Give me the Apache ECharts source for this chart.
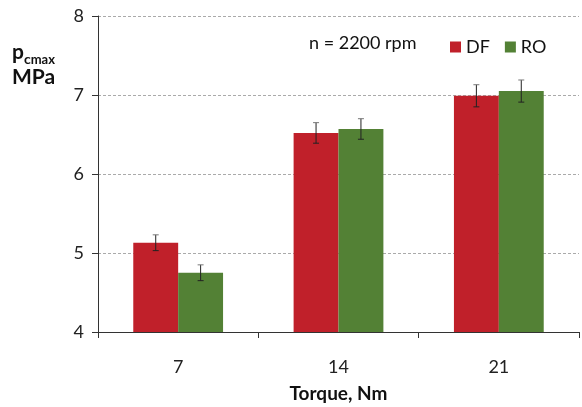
<!DOCTYPE html>
<html>
<head>
<meta charset="utf-8">
<script src="https://cdn.jsdelivr.net/npm/echarts@6/dist/echarts.min.js"></script>
<style>
  html, body { margin: 0; padding: 0; background: #fff; }
  #chart { width: 582px; height: 407px; }
</style>
</head>
<body>
<div id="chart"></div>
<script>
const torques = ['7', '14', '21']
const dfValues = [5.13, 6.52, 6.99]
const roValues = [4.75, 6.57, 7.05]
const dfErr = [0.1, 0.13, 0.14]
const roErr = [0.1, 0.13, 0.14]

const FONT = 'Lato'
const BAR_FRAC = 0.28

function errorSeries(name, values, errs, side) {
  return {
    type: 'custom',
    name: name + ' err',
    z: 10,
    silent: true,
    data: values.map((v, i) => [i, v - errs[i], v + errs[i]]),
    renderItem(params, api) {
      const band = api.size([1, 0])[0]
      const dx = side * band * BAR_FRAC / 2
      const lo = api.coord([api.value(0), api.value(1)])
      const hi = api.coord([api.value(0), api.value(2)])
      const x = lo[0] + dx
      const cap = 3
      const style = { stroke: '#222', lineWidth: 1 }
      return {
        type: 'group',
        children: [
          { type: 'line', shape: { x1: x, y1: hi[1], x2: x, y2: lo[1] }, style },
          { type: 'line', shape: { x1: x - cap, y1: hi[1], x2: x + cap, y2: hi[1] }, style: { stroke: '#777', lineWidth: 1 } },
          { type: 'line', shape: { x1: x - cap, y1: lo[1], x2: x + cap, y2: lo[1] }, style }
        ]
      }
    }
  }
}

const chart = echarts.init(document.getElementById('chart'))
chart.setOption({
  animation: false,
  textStyle: { fontFamily: FONT },
  grid: { left: 98, right: 3, top: 16, bottom: 75, containLabel: false, outerBoundsMode: 'none' },
  legend: {
    left: 445, top: 33,
    itemWidth: 11, itemHeight: 11, itemGap: 15,
    icon: 'rect',
    data: ['DF', 'RO'],
    textStyle: { fontSize: 18, color: '#111', fontFamily: FONT }
  },
  graphic: [
    { type: 'text', left: 309, top: 34, style: { text: 'n = 2200 rpm', fontSize: 18, fill: '#111', fontFamily: FONT } },
    {
      type: 'text', left: 12, top: 42,
      style: {
        text: '{p|p}{c|c}{m|max}',
        rich: {
          p: { fontSize: 21, fontWeight: 'bold', fill: '#111', fontFamily: FONT },
          c: { fontSize: 14, fontWeight: 'bold', fill: '#111', fontFamily: FONT, verticalAlign: 'bottom', padding: [8, 0, 0, 0] },
          m: { fontSize: 13, fontWeight: 'bold', fill: '#111', fontFamily: FONT, verticalAlign: 'bottom', padding: [14, 0, 0, 0] }
        }
      }
    },
    { type: 'text', left: 12, top: 67, style: { text: 'MPa', fontSize: 21, fontWeight: 'bold', fill: '#111', fontFamily: FONT } }
  ],
  xAxis: {
    type: 'category',
    data: torques,
    name: 'Torque, Nm',
    nameLocation: 'middle',
    nameGap: 52,
    nameTextStyle: { fontSize: 19, fontWeight: 'bold', color: '#111', fontFamily: FONT },
    axisLine: { lineStyle: { color: '#333', width: 1 } },
    axisTick: { show: true, length: 6, lineStyle: { color: '#333' } },
    axisLabel: { fontSize: 18, color: '#222', margin: 26, fontFamily: FONT }
  },
  yAxis: {
    type: 'value',
    min: 4, max: 8, interval: 1,
    axisLine: { show: true, lineStyle: { color: '#333', width: 1 } },
    axisTick: { show: true, length: 6, lineStyle: { color: '#333' } },
    axisLabel: { fontSize: 18, color: '#222', margin: 14, fontFamily: FONT },
    splitLine: { lineStyle: { color: '#aaa', type: [3, 2], width: 1 } }
  },
  series: [
    {
      name: 'DF', type: 'bar', data: dfValues,
      barWidth: (BAR_FRAC * 100) + '%', barGap: '0%',
      itemStyle: { color: '#C0202A' }
    },
    {
      name: 'RO', type: 'bar', data: roValues,
      barWidth: (BAR_FRAC * 100) + '%', barGap: '0%',
      itemStyle: { color: '#538135' }
    },
    errorSeries('DF', dfValues, dfErr, -1),
    errorSeries('RO', roValues, roErr, 1)
  ]
})
</script>
</body>
</html>
